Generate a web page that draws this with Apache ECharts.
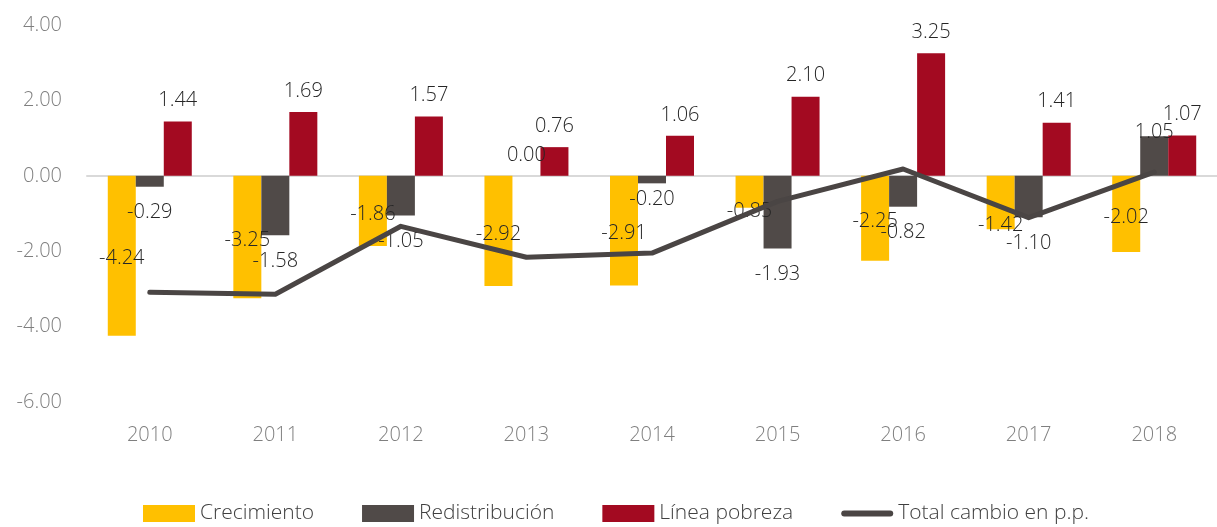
<!DOCTYPE html>
<html><head><meta charset="utf-8">
<script src="https://cdn.jsdelivr.net/npm/echarts@6/dist/echarts.min.js"></script>
<style>html,body{margin:0;padding:0;background:#fff}#c{width:1217px;height:527px}</style>
</head><body><div id="c"></div>
<script>
const categories = ['2010','2011','2012','2013','2014','2015','2016','2017','2018'];
const crecimiento = [-4.24,-3.25,-1.86,-2.92,-2.91,-0.85,-2.25,-1.42,-2.02];
const redistribucion = [-0.29,-1.58,-1.05,0.00,-0.20,-1.93,-0.82,-1.10,1.05];
const lineaPobreza = [1.44,1.69,1.57,0.76,1.06,2.10,3.25,1.41,1.07];
const totalCambio = [-3.09,-3.14,-1.34,-2.16,-2.05,-0.68,0.18,-1.11,0.10];
const seriesNames = ['Crecimiento','Redistribución','Línea pobreza','Total cambio en p.p.'];
const yTicks = {min:-6, max:4, interval:2};

const FONT = "'Open Sans', 'Noto Sans', sans-serif";
const labelBase = {show:true, fontFamily:FONT, fontSize:20, fontWeight:300, color:'#262626',
  formatter: p => Number(p.value).toFixed(2)};

// label nudges (style only)
const yellowNudge = {5:16, 7:20};
const greyNudge = {4:-10, 8:17};

function outsideItems(vals, nudge){
  return vals.map((v,i)=>({value:v, label:{position: v>=0?'top':'bottom',
     distance: v>=0?11:16, offset:[0,(nudge&&nudge[i])||0]}}));
}

const lineIcon = 'path://M3,0 L49,0 A3,3 0 0 1 49,6 L3,6 A3,3 0 0 1 3,0 Z';

const chart = echarts.init(document.getElementById('c'), null, {renderer:'canvas'});
chart.setOption({
  animation:false,
  grid:{left:87, right:0, top:25, bottom:125, containLabel:false},
  legend:{
    left:143, top:503, padding:0, itemWidth:52, itemHeight:17, itemGap:48,
    textStyle:{fontFamily:FONT, fontSize:21, fontWeight:300, color:'#404040'},
    data:[
      {name:seriesNames[0], icon:'rect'},
      {name:seriesNames[1], icon:'rect'},
      {name:seriesNames[2], icon:'rect'},
      {name:seriesNames[3], icon:lineIcon}
    ]
  },
  xAxis:{
    type:'category', data:categories,
    axisLine:{onZero:true, lineStyle:{color:'#d9d9d9', width:2}},
    axisTick:{show:false},
    axisLabel:{fontFamily:FONT, fontSize:20, fontWeight:300, color:'#7f7f7f', margin:23},
    position:'bottom'
  },
  yAxis:{
    type:'value', min:yTicks.min, max:yTicks.max, interval:yTicks.interval,
    splitLine:{show:false}, axisLine:{show:false}, axisTick:{show:false},
    axisLabel:{fontFamily:FONT, fontSize:20, fontWeight:300, color:'#7f7f7f', margin:25,
      formatter: v => v.toFixed(2)}
  },
  series:[
    {name:seriesNames[0], type:'bar', barWidth:28, barGap:'0%', itemStyle:{color:'#FFC000'},
     data: crecimiento.map((v,i)=>({value:v, label:{offset:[0, 3+((yellowNudge[i])||0)]}})),
     label:Object.assign({}, labelBase, {position:'inside'}), z:2},
    {name:seriesNames[1], type:'bar', barWidth:28, barGap:'0%', itemStyle:{color:'#504A48'},
     data: outsideItems(redistribucion, greyNudge),
     label:Object.assign({}, labelBase), z:2},
    {name:seriesNames[2], type:'bar', barWidth:28, barGap:'0%', itemStyle:{color:'#A30A21'},
     data: outsideItems(lineaPobreza, null),
     label:Object.assign({}, labelBase), z:2},
    {name:seriesNames[3], type:'line', data:totalCambio, showSymbol:false, symbol:'none',
     lineStyle:{color:'#4A4544', width:5, cap:'round', join:'round'},
     itemStyle:{color:'#4A4544'}, z:3}
  ]
});
</script></body></html>
